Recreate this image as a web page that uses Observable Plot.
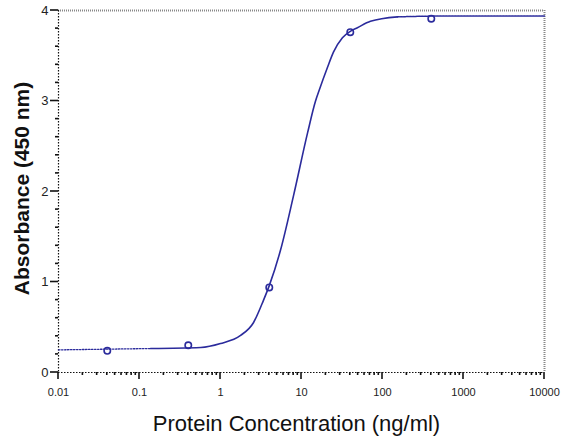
<!DOCTYPE html>
<html>
<head>
<meta charset="utf-8">
<script src="https://cdn.jsdelivr.net/npm/d3@7"></script>
<script src="https://cdn.jsdelivr.net/npm/@observablehq/plot@0.6"></script>
<style>
  html, body { margin: 0; padding: 0; background: #fff; }
</style>
</head>
<body>
<div id="chart"></div>
<script>
// Measured sample points
const concentration = [0.04, 0.4, 4, 40, 400];
const absorbance = [0.24, 0.30, 0.94, 3.76, 3.91];

// Fitted curve
const curveX = [0.01, 0.137, 0.57, 1.0, 1.77, 2.55, 3.4, 4.0, 5.5, 8.0, 11.9, 14.9, 16.7, 20.9, 24.8, 32, 40, 49, 71, 153, 690, 10000];
const curveY = [0.25, 0.265, 0.276, 0.32, 0.41, 0.55, 0.80, 0.96, 1.35, 1.96, 2.65, 3.0, 3.13, 3.37, 3.54, 3.70, 3.77, 3.81, 3.88, 3.93, 3.94, 3.94];

const xTicks = [0.01, 0.1, 1, 10, 100, 1000, 10000];
const xTickLabels = ["0.01", "0.1", "1", "10", "100", "1000", "10000"];
const yTicks = [0, 1, 2, 3, 4];
const yTickLabels = ["0", "1", "2", "3", "4"];
const xMinor = [];
for (let e = -2; e < 4; e++) for (let m = 2; m <= 9; m++) xMinor.push(m * Math.pow(10, e));
const yMinor = d3.range(0, 4.001, 0.2).filter(v => Math.abs(v - Math.round(v)) > 1e-6);

const xTitle = "Protein Concentration (ng/ml)";
const yTitle = "Absorbance (450 nm)";

const points = concentration.map((c, i) => ({c, a: absorbance[i]}));
const curve = curveX.map((x, i) => ({x, y: curveY[i]}));
const solidPart = curve.filter(d => d.x >= 0.137 && d.x <= 153);
const lowPart = curve.filter(d => d.x <= 0.137);
const highPart = curve.filter(d => d.x >= 153);

const blue = "#2b2b9c";
const font = "'Liberation Sans', Arial, sans-serif";

const chart = Plot.plot({
  width: 563,
  height: 446,
  marginLeft: 58,
  marginRight: 19,
  marginTop: 10,
  marginBottom: 74,
  style: {fontFamily: font, fontSize: "12px", background: "#fff", color: "#222"},
  x: {type: "log", domain: [0.01, 10000]},
  y: {domain: [0, 4]},
  marks: [
    // frame: top & right grey dotted
    Plot.ruleY([4], {stroke: "#888", strokeWidth: 2, strokeDasharray: "1,1"}),
    Plot.ruleX([10000], {stroke: "#888", strokeWidth: 2, strokeDasharray: "1,1"}),
    // axes lines dotted black
    Plot.ruleY([0], {stroke: "#111", strokeWidth: 1.2, strokeDasharray: "1.5,1.5"}),
    Plot.ruleX([0.01], {stroke: "#111", strokeWidth: 1.2, strokeDasharray: "1.5,1.5"}),
    // tick labels
    Plot.axisX({ticks: xTicks, tickSize: 0, tickPadding: 16, tickFormat: d => xTickLabels[xTicks.indexOf(d)], fontSize: 11, label: null}),
    Plot.axisY({ticks: yTicks, tickSize: 0, tickPadding: 10, tickFormat: d => yTickLabels[yTicks.indexOf(d)], fontSize: 13, label: null}),
    // fitted curve
    Plot.line(lowPart, {x: "x", y: "y", stroke: blue, strokeWidth: 1.3, strokeDasharray: "1.5,1.5", curve: "monotone-x"}),
    Plot.line(highPart, {x: "x", y: "y", stroke: blue, strokeWidth: 1.5, strokeDasharray: "2,1", curve: "monotone-x"}),
    Plot.line(solidPart, {x: "x", y: "y", stroke: blue, strokeWidth: 1.6, curve: "monotone-x"}),
    // data points
    Plot.dot(points, {x: "c", y: "a", r: 3.2, stroke: blue, strokeWidth: 1.6, fill: "none"}),
    // titles
    Plot.text([xTitle], {frameAnchor: "bottom", dy: 58, dx: -5, text: d => d, fontSize: 22, fill: "#111",
      textAnchor: "middle", ariaLabel: "x-title"}),
    Plot.text([yTitle], {frameAnchor: "left", dx: -36, dy: -3, rotate: -90, text: d => d, fontSize: 21, fontWeight: "bold", fill: "#111",
      textAnchor: "middle", ariaLabel: "y-title"})
  ]
});
d3.select(chart).selectAll('g[aria-label="x-title"] text')
  .attr("textLength", 262).attr("lengthAdjust", "spacingAndGlyphs");
d3.select(chart).selectAll('g[aria-label="y-title"] text')
  .attr("textLength", 272).attr("lengthAdjust", "spacing");

// axis ticks placed with Plot's own scales
const sx = chart.scale("x"), sy = chart.scale("y");
const x0 = sx.apply(0.01), y0 = sy.apply(0);
const g = d3.select(chart).append("g").attr("stroke", "#111").attr("stroke-width", 1.6);
g.selectAll(".mx").data(xMinor).join("line")
  .attr("x1", d => sx.apply(d)).attr("x2", d => sx.apply(d)).attr("y1", y0).attr("y2", y0 + 3);
g.selectAll(".Mx").data(xTicks).join("line")
  .attr("x1", d => sx.apply(d)).attr("x2", d => sx.apply(d)).attr("y1", y0).attr("y2", y0 + 7);
g.selectAll(".my").data(yMinor).join("line")
  .attr("y1", d => sy.apply(d)).attr("y2", d => sy.apply(d)).attr("x1", x0).attr("x2", x0 - 3);
g.selectAll(".My").data(yTicks).join("line")
  .attr("y1", d => sy.apply(d)).attr("y2", d => sy.apply(d)).attr("x1", x0).attr("x2", x0 - 8);

document.getElementById("chart").appendChild(chart);
</script>
</body>
</html>
